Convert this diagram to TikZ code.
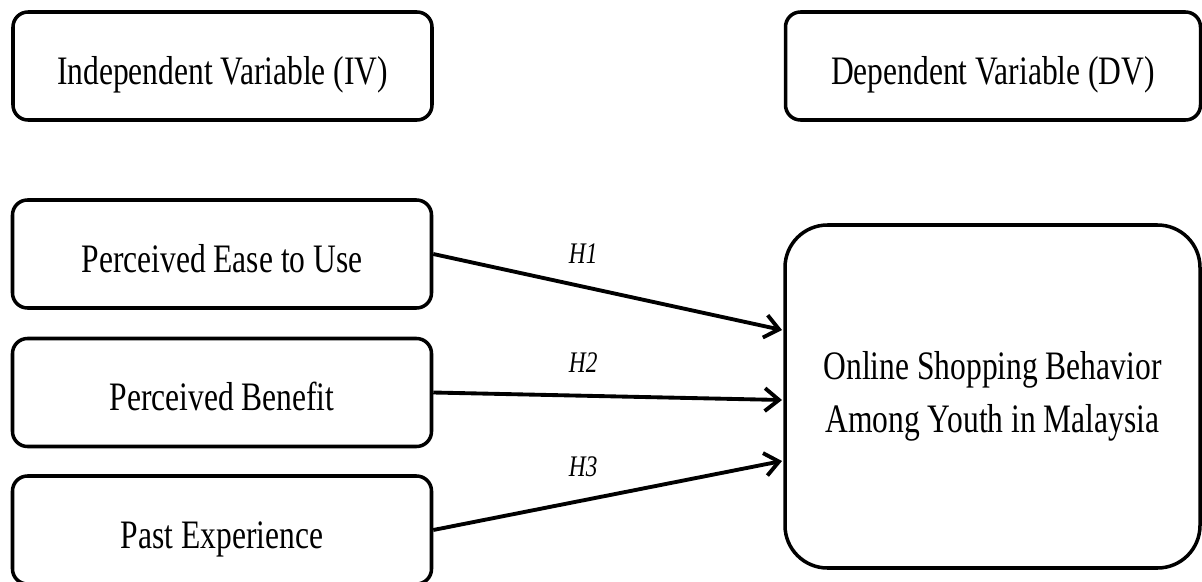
\documentclass[tikz,border=0pt]{standalone}
\usepackage{fontspec}
\setmainfont{Liberation Serif}[FakeStretch=0.78]
\usetikzlibrary{arrows.meta}
\begin{document}
\begin{tikzpicture}
  [line width=2pt,every node/.style={draw,rectangle,rounded corners=0.3cm,minimum width=8.38cm,minimum height=2.16cm,text height=0.88cm,text depth=0.16cm,font=\fontsize{23}{30.5}\selectfont}]
  \tikzstyle{hyp} = [-{Straight Barb[length=8pt,width=13pt]},line width=2.2pt]
  \tikzstyle{hlabel} = [draw=none,rounded corners=0pt,minimum width=0pt,minimum height=0pt,text height=,text depth=,pos=.43,above=9pt,font=\fontsize{17}{20}\selectfont\itshape]
  \useasboundingbox (0,0) rectangle (24.04,11.62);
  \node (iv)   at (4.45,10.30)  {Independent Variable (IV)};
  \node (dv)   at (19.86,10.30) [minimum width=8.3cm] {Dependent Variable (DV)};
  \node (peou) at (4.44,6.54)   {Perceived Ease to Use};
  \node (pb)   at (4.44,3.77)   {Perceived Benefit};
  \node (pe)   at (4.44,1.02)   {Past Experience};
  \node (osb)  at (19.85,3.69)  [minimum width=8.3cm,minimum height=6.86cm,rounded corners=0.85cm,text height=,text depth=,align=center]
    {Online Shopping Behavior\\Among Youth in Malaysia};
  \coordinate (t1) at (15.64,5.02);
  \coordinate (t2) at (15.64,3.62);
  \coordinate (t3) at (15.64,2.40);
  \foreach \source /\dest /\hyp in {peou/t1/H1,pb/t2/H2,pe/t3/H3}
   \draw[hyp] (\source.east) -- node[hlabel] {\hyp} (\dest);
\end{tikzpicture}
\end{document}
